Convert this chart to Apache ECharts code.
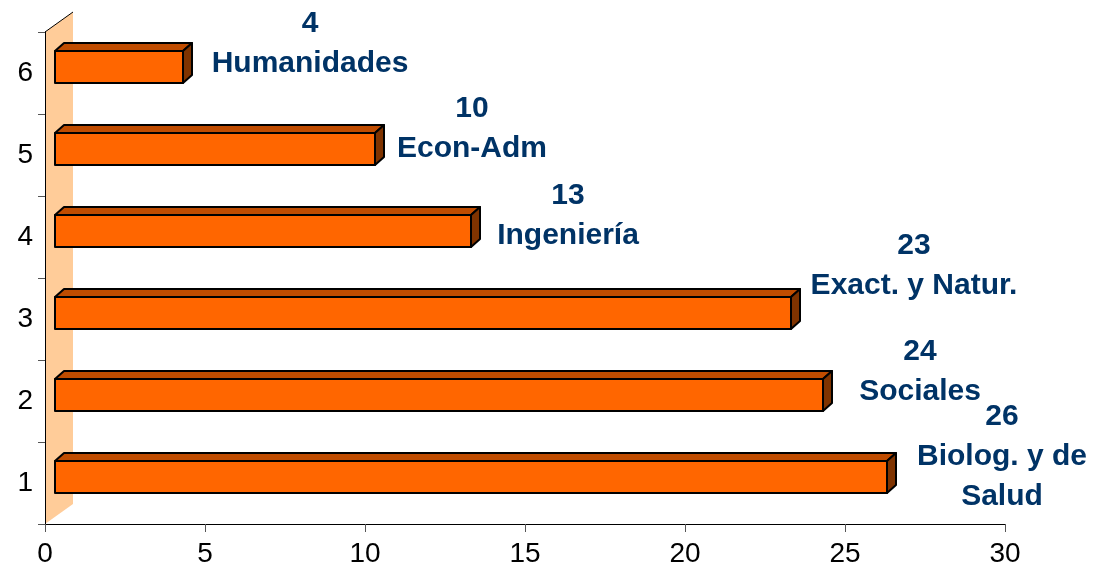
<!DOCTYPE html>
<html>
<head>
<meta charset="utf-8">
<script src="https://cdn.jsdelivr.net/npm/echarts@6/dist/echarts.min.js"></script>
<style>
  html, body { margin: 0; padding: 0; background: #fff; }
  #main { width: 1101px; height: 576px; }
</style>
</head>
<body>
<div id="main"></div>
<script>
// categorias del eje y (de abajo hacia arriba)
var categorias = ['1', '2', '3', '4', '5', '6'];
// numero de trabajos por area
var valores = [26, 24, 23, 13, 10, 4];
// nombre de cada area
var areas = ['Biolog. y de\nSalud', 'Sociales', 'Exact. y Natur.', 'Ingeniería', 'Econ-Adm', 'Humanidades'];
// ticks del eje x
var xMin = 0, xMax = 30, xPaso = 5;

// desplazamiento de cada etiqueta respecto al final de la barra (en px)
var etiquetaDx = [106, 88, 114, 88, 88, 118];
var etiquetaDy = [-26, -29, -53, -21, -26, -29];

var FUENTE = "'Liberation Sans', Arial, sans-serif";
var prof = [9, -8]; // profundidad 3D

function barra3D(params, api) {
	var idx = api.value(0);
	var v = api.value(1);
	var c0 = api.coord([0, idx]);
	var c1 = api.coord([v, idx]);
	var x0 = c0[0] + 10, x1 = c1[0] + 10;
	var y0 = c1[1] - 22, y1 = c1[1] + 10;
	var dx = prof[0], dy = prof[1];
	var borde = { stroke: '#000', lineWidth: 2, lineJoin: 'round' };
	return {
		type: 'group',
		children: [
			{ type: 'polygon', shape: { points: [[x0, y0], [x0 + dx, y0 + dy], [x1 + dx, y0 + dy], [x1, y0]] },
				style: Object.assign({ fill: '#C04C00' }, borde) },
			{ type: 'polygon', shape: { points: [[x1, y0], [x1 + dx, y0 + dy], [x1 + dx, y1 + dy], [x1, y1]] },
				style: Object.assign({ fill: '#7F3300' }, borde) },
			{ type: 'rect', shape: { x: x0, y: y0, width: x1 - x0, height: y1 - y0 },
				style: Object.assign({ fill: '#FF6600' }, borde) },
			{ type: 'text', x: x1 + dx + etiquetaDx[idx], y: c1[1] + etiquetaDy[idx],
				style: { text: valores[idx] + '\n' + areas[idx], fill: '#003366', font: 'bold 30px ' + FUENTE,
					align: 'center', verticalAlign: 'middle', lineHeight: 40 } }
		]
	};
}

function pared(params, api) {
	var cs = params.coordSys;
	var w = 28, d = -20;
	return {
		type: 'group',
		children: [
			{ type: 'polygon', shape: { points: [[cs.x, cs.y + cs.height], [cs.x + w, cs.y + cs.height + d],
				[cs.x + w, cs.y + d], [cs.x, cs.y]] }, style: { fill: '#FFCC99' } },
			{ type: 'line', shape: { x1: cs.x, y1: cs.y, x2: cs.x + w, y2: cs.y + d },
				style: { stroke: '#000', lineWidth: 1 } }
		]
	};
}

var datos = [];
for (var i = 0; i < valores.length; i++) {
	datos.push([i, valores[i]]);
}

var option = {
	animation: false,
	grid: { left: 45, right: 96, top: 32, bottom: 52 },
	xAxis: {
		type: 'value', min: xMin, max: xMax, interval: xPaso, z: 3,
		splitLine: { show: false },
		axisLine: { show: true, lineStyle: { color: '#000', width: 1 } },
		axisTick: { show: true, length: 8, lineStyle: { color: '#555' } },
		axisLabel: { color: '#000', fontSize: 28, fontFamily: FUENTE, margin: 16 }
	},
	yAxis: {
		type: 'category', data: categorias, z: 3,
		axisLine: { show: true, lineStyle: { color: '#000', width: 1 } },
		axisTick: { show: true, length: 7, lineStyle: { color: '#555' } },
		axisLabel: { color: '#000', fontSize: 28, fontFamily: FUENTE, margin: 12 }
	},
	series: [
		{ type: 'custom', renderItem: pared, data: [[0, 0]], silent: true, z: 1 },
		{ type: 'custom', renderItem: barra3D, data: datos, z: 2, clip: false }
	]
};

var grafico = echarts.init(document.getElementById('main'));
grafico.setOption(option);
</script>
</body>
</html>
